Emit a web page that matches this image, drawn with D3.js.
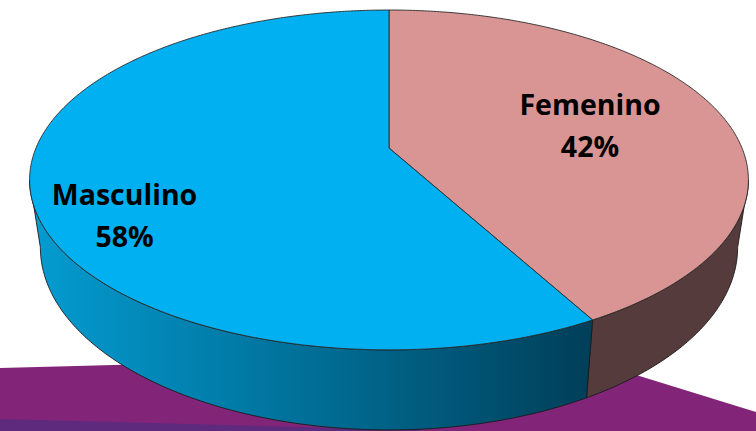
<!DOCTYPE html>
<html>
<head>
<meta charset="utf-8">
<script src="https://cdn.jsdelivr.net/npm/d3@7"></script>
<style>
  body{margin:0;background:#fff;overflow:hidden}
  svg{display:block}
  .lbl{font-family:"Open Sans",sans-serif;font-weight:700;font-size:28.5px;fill:#000}
</style>
</head>
<body>
<div id="chart"></div>
<script>
// data
const categories=["Femenino","Masculino"]
const values=[42,58]
const percentLabels=["42%","58%"]

const topColors=["#D99594","#00B0F0"]
const sideColors=["#553B3B",null] // masculino side uses a gradient

let width=756,height=431
let svg=d3.select("#chart").append("svg").attr("width",width).attr("height",height)

//purple floor behind the pie
svg.append("path").attr("d","M0,368 L565,353 L756,412 L756,431 L0,431 Z").attr("fill","#822579")
svg.append("path").attr("d","M0,419 L420,430 L420,431 L0,431 Z").attr("fill","#5E2A7E")

// perspective projection of the pie disc
let cx=389,cy=148,ry=136.1,rx=353,k=-0.188,thick=65,bottomScale=0.97
function project(phi,r,drop){
    let u=Math.sin(phi)*r, v=-Math.cos(phi)*r
    let d=1+k*v
    let x=rx*u/d, y=(cy+ry*v)/d
    if(drop){ x=x*bottomScale; y=y+thick/d }
    return [cx+x,y]
}

let pie=d3.pie().sort(null).value(d=>d)
let arcs=pie(values)

let line=d3.line()
function arcPoints(a0,a1,drop){
    let n=Math.max(2,Math.ceil(Math.abs(a1-a0)/0.01))
    return d3.range(n+1).map(i=>project(a0+(a1-a0)*i/n,1,drop))
}

//sides (front half only)
let silR=Math.PI-Math.acos(-k), silL=Math.PI+Math.acos(-k)
let defs=svg.append("defs")
let grad=defs.append("linearGradient").attr("id","blueSide").attr("gradientUnits","userSpaceOnUse")
    .attr("x1",35).attr("x2",595).attr("y1",0).attr("y2",0)
grad.append("stop").attr("offset","0%").attr("stop-color","#049BD0")
grad.append("stop").attr("offset","50%").attr("stop-color","#006E96")
grad.append("stop").attr("offset","100%").attr("stop-color","#003E58")

arcs.forEach((a,i)=>{
    let a0=Math.max(a.startAngle,silR), a1=Math.min(a.endAngle,silL)
    if(a1<=a0) return
    let pts=arcPoints(a0,a1,false).concat(arcPoints(a1,a0,true))
    svg.append("path").attr("d",line(pts)+"Z")
        .attr("fill",sideColors[i] || "url(#blueSide)")
        .attr("stroke","#1a1a1a").attr("stroke-width",0.9).attr("stroke-linejoin","round")
})

//top faces
arcs.forEach((a,i)=>{
    let pts=[project(0,0,false)].concat(arcPoints(a.startAngle,a.endAngle,false))
    svg.append("path").attr("d",line(pts)+"Z")
        .attr("fill",topColors[i])
        .attr("stroke","#2a2a2a").attr("stroke-width",0.9).attr("stroke-linejoin","round")
})

//labels
let labelPos=[{r:0.62,dx:-5,dy:2},{r:0.76,dx:5,dy:35}]
arcs.forEach((a,i)=>{
    let mid=(a.startAngle+a.endAngle)/2
    let p=project(mid,labelPos[i].r,false)
    let xc=p[0]+labelPos[i].dx, yc=p[1]+labelPos[i].dy
    svg.append("text").attr("class","lbl").attr("x",xc).attr("y",yc-10).attr("text-anchor","middle").text(categories[i])
    svg.append("text").attr("class","lbl").attr("x",xc).attr("y",yc+32).attr("text-anchor","middle").text(percentLabels[i])
})
</script>
</body>
</html>
